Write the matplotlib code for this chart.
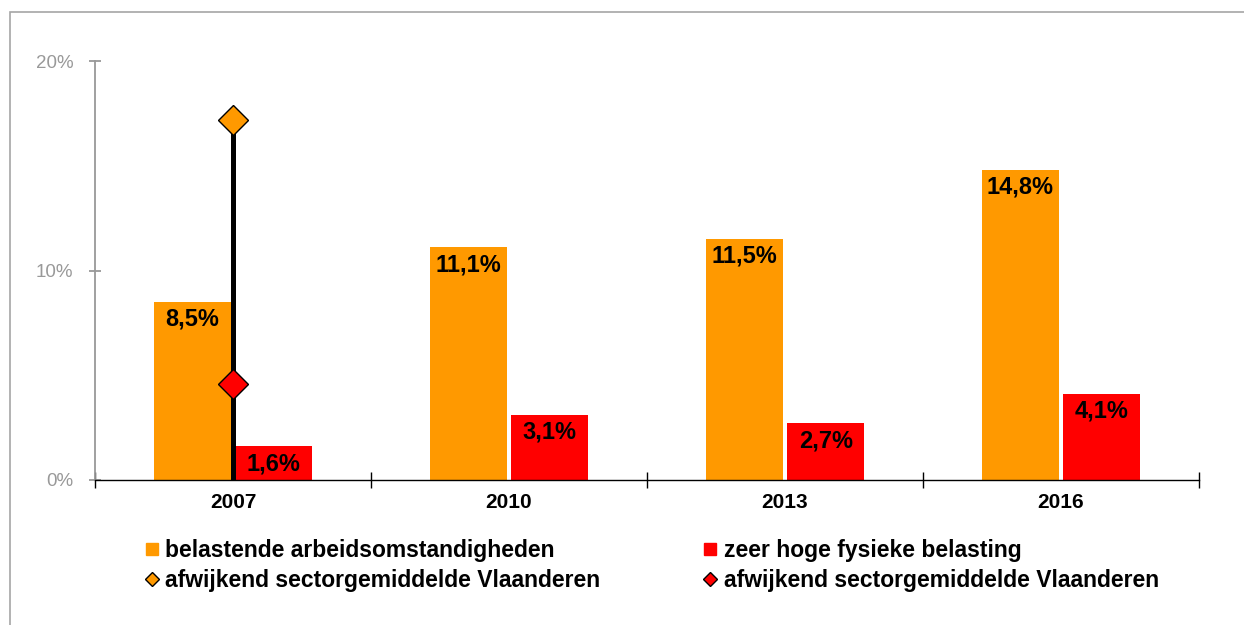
import matplotlib
matplotlib.use("Agg")
import matplotlib.pyplot as plt
from matplotlib.lines import Line2D
from matplotlib.patches import Rectangle
import numpy as np

years = ["2007", "2010", "2013", "2016"]
belastend = [8.5, 11.1, 11.5, 14.8]
fysiek = [1.6, 3.1, 2.7, 4.1]
sector_belastend_2007 = 17.2
sector_fysiek_2007 = 4.6
yticks = [0, 10, 20]
ytick_labels = ["0%", "10%", "20%"]
legend_labels = ["belastende arbeidsomstandigheden", "zeer hoge fysieke belasting",
                 "afwijkend sectorgemiddelde Vlaanderen", "afwijkend sectorgemiddelde Vlaanderen"]

ORANGE = "#FF9900"
RED = "#FF0000"
GRAY = "#999999"
BOLD = ["Liberation Sans", "DejaVu Sans"]

W, H = 1244, 625
fig = plt.figure(figsize=(W / 100, H / 100), dpi=100)
fig.patch.set_facecolor("white")

# outer frame (open at right/bottom, as cropped)
fig.add_artist(Rectangle((10 / W, -0.1), 1.2, 1.1 - 12 / H, transform=fig.transFigure,
                         fill=False, edgecolor="#A6A6A6", lw=1.2))

ax = fig.add_axes([95 / W, 1 - 480 / H, (1199 - 95) / W, (480 - 61) / H])
x = np.arange(len(years))
bw = 0.28
off = 0.148
ax.bar(x - off, belastend, width=bw, color=ORANGE, zorder=2)
ax.bar(x + off, fysiek, width=bw, color=RED, zorder=2)

for xi, v in zip(x - off, belastend):
    ax.annotate(f"{v:.1f}%".replace(".", ","), (xi, v), xytext=(0, -12.5),
                textcoords="offset points", ha="center", va="center",
                fontsize=17, fontweight="bold", family=BOLD, zorder=5)
for xi, v in zip(x + off, fysiek):
    ax.annotate(f"{v:.1f}%".replace(".", ","), (xi, v), xytext=(0, -12.5),
                textcoords="offset points", ha="center", va="center",
                fontsize=17, fontweight="bold", family=BOLD, zorder=5)

# sector average line for 2007
ax.plot([x[0], x[0]], [0, sector_belastend_2007], color="black", lw=3.6, zorder=3,
        solid_capstyle="butt")
ax.plot([x[0]], [sector_belastend_2007], marker="D", ms=15, color=ORANGE,
        markeredgecolor="black", mew=1.0, zorder=4, clip_on=False)
ax.plot([x[0]], [sector_fysiek_2007], marker="D", ms=15, color=RED,
        markeredgecolor="black", mew=1.0, zorder=4, clip_on=False)

ax.set_xlim(-0.5, len(years) - 0.5)
ax.set_ylim(0, 20)
ax.set_yticks(yticks)
ax.set_yticklabels(ytick_labels)
ax.set_xticks(x)
ax.set_xticklabels(years)
ax.set_xticks(np.arange(-0.5, len(years), 1.0), minor=True)

for s in ["top", "right"]:
    ax.spines[s].set_visible(False)
ax.spines["left"].set_color(GRAY)
ax.spines["left"].set_linewidth(1.3)
ax.spines["bottom"].set_color("black")
ax.spines["bottom"].set_linewidth(1.0)
ax.spines["bottom"].set_zorder(6)

ax.tick_params(axis="y", direction="inout", length=9, width=1.3, color=GRAY,
               labelcolor=GRAY, pad=11, labelsize=13.5)
for lab in ax.get_yticklabels():
    lab.set_family(BOLD)
ax.tick_params(axis="x", which="major", length=0, pad=9.5, labelsize=15)
ax.tick_params(axis="x", which="minor", direction="inout", length=11, width=1.0,
               color="black")
for lab in ax.get_xticklabels():
    lab.set_family(BOLD)
    lab.set_fontweight("bold")

handles = [
    Line2D([], [], ls="none", marker="s", ms=9, color=ORANGE),
    Line2D([], [], ls="none", marker="D", ms=6.8, markerfacecolor=ORANGE,
           markeredgecolor="black", mew=1.0),
    Line2D([], [], ls="none", marker="s", ms=9, color=RED),
    Line2D([], [], ls="none", marker="D", ms=6.8, markerfacecolor=RED,
           markeredgecolor="black", mew=1.0),
]
labels = [legend_labels[0], legend_labels[2], legend_labels[1], legend_labels[3]]
leg = fig.legend(handles, labels, ncol=2, loc="center",
                 bbox_to_anchor=(652 / W, 1 - 565.5 / H), frameon=False,
                 prop={"family": BOLD, "weight": "bold", "size": 16.5},
                 handlelength=0.6, handletextpad=0.3, columnspacing=4.5,
                 labelspacing=0.33, borderaxespad=0)

fig.savefig("out.png", dpi=100, facecolor="white")
